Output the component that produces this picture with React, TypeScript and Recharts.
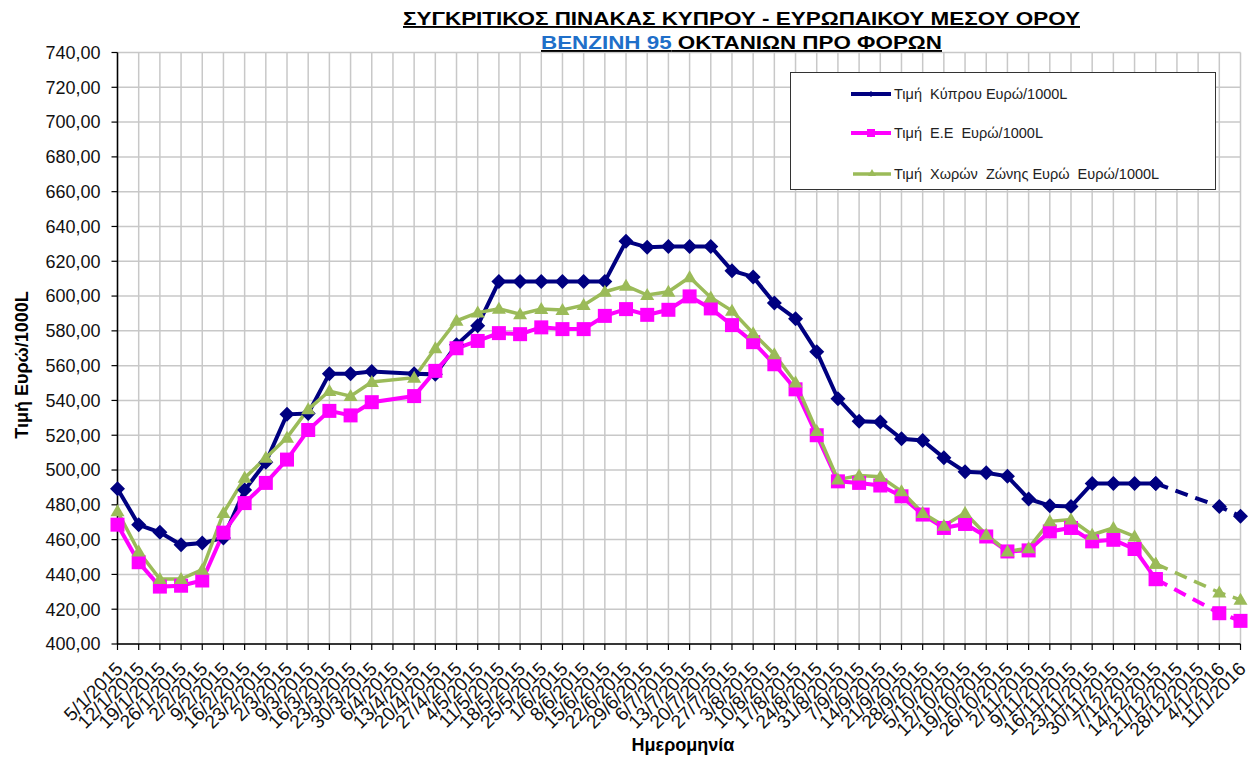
import React from "react";
import { LineChart, Line, XAxis, YAxis, CartesianGrid } from "recharts";

// weekly dates (Mondays)
const dates = [
  "5/1/2015", "12/1/2015", "19/1/2015", "26/1/2015", "2/2/2015", "9/2/2015",
  "16/2/2015", "23/2/2015", "2/3/2015", "9/3/2015", "16/3/2015", "23/3/2015",
  "30/3/2015", "6/4/2015", "13/4/2015", "20/4/2015", "27/4/2015", "4/5/2015",
  "11/5/2015", "18/5/2015", "25/5/2015", "1/6/2015", "8/6/2015", "15/6/2015",
  "22/6/2015", "29/6/2015", "6/7/2015", "13/7/2015", "20/7/2015", "27/7/2015",
  "3/8/2015", "10/8/2015", "17/8/2015", "24/8/2015", "31/8/2015", "7/9/2015",
  "14/9/2015", "21/9/2015", "28/9/2015", "5/10/2015", "12/10/2015", "19/10/2015",
  "26/10/2015", "2/11/2015", "9/11/2015", "16/11/2015", "23/11/2015", "30/11/2015",
  "7/12/2015", "14/12/2015", "21/12/2015", "28/12/2015", "4/1/2016", "11/1/2016",
];

const cyprus = [
  489.3, 468.5, 464.2, 457, 458, 461, 488.5, 504.5, 532, 532.5,
  555.4, 555.4, 556.6, null, 555.4, 555, 572, 583, 608.3, 608.3,
  608.3, 608.3, 608.3, 608.3, 631.5, 628, 628.5, 628.5, 628.5, 614.6,
  611, 596, 587, 568, 541, 528, 527.6, 518, 517, 507,
  499, 498.4, 496.4, 483.4, 479.5, 479, 492.3, 492.3, 492.3, 492.3,
  null, null, 479, 473.4,
];

const eu = [
  468.6, 447, 433, 433.5, 436.5, 464, 481, 492.6, 506, 523,
  534, 531.4, 539, null, 542.5, 557, 570, 574.2, 578.7, 578.1,
  582, 581, 581, 588.6, 592.5, 589.2, 592.1, 599.8, 592.9, 583.3,
  573.5, 560.8, 546.4, 520, 493.5, 492.6, 491.1, 484.9, 474.4, 466.7,
  469, 461.8, 453.2, 453.8, 464.7, 466.7, 459, 459.9, 454.6, 437.3,
  null, null, 417.7, 413.3,
];

const zone = [
  476.3, 453.2, 437.3, 437.3, 442.7, 475.3, 495.5, 507, 518.6, 534.9,
  545.4, 542.5, 550.6, null, 553.1, 570, 585.8, 590.5, 592.7, 589.6,
  592.5, 592, 594.8, 602.5, 605.9, 600.6, 602.5, 610.8, 599.2, 591.5,
  578.6, 566.6, 550.3, 522.4, 494.5, 496.8, 496.1, 487.8, 475.3, 468,
  475.3, 462.8, 453.2, 455.1, 470.5, 471.5, 462.8, 466.7, 461.8, 446.1,
  null, null, 429.6, 425.4,
];

const yTicks = [400, 420, 440, 460, 480, 500, 520, 540, 560, 580, 600, 620, 640, 660, 680, 700, 720, 740];

const seriesNames = [
  "Τιμή  Κύπρου Ευρώ/1000L",
  "Τιμή  Ε.Ε  Ευρώ/1000L",
  "Τιμή  Χωρών  Ζώνης Ευρώ  Ευρώ/1000L",
];

// last solid week; later weeks are drawn dashed
const lastSolid = 49;

const data = dates.map((date, i) => ({
  date,
  cyprus: i <= lastSolid ? cyprus[i] : null,
  eu: i <= lastSolid ? eu[i] : null,
  zone: i <= lastSolid ? zone[i] : null,
  cyprusDash: i >= lastSolid ? cyprus[i] : null,
  euDash: i >= lastSolid ? eu[i] : null,
  zoneDash: i >= lastSolid ? zone[i] : null,
}));

const FONT = "'Liberation Sans', Arial, sans-serif";
const NAVY = "#000080";
const MAGENTA = "#FF00FF";
const GREEN = "#9BBB59";

function Diamond(props: any) {
  const { cx, cy, value, index } = props;
  if (cy == null || value == null) return <g key={"d" + index} />;
  const r = 7.5;
  return (
    <path
      key={"d" + index}
      d={`M${cx},${cy - r}L${cx + r},${cy}L${cx},${cy + r}L${cx - r},${cy}Z`}
      fill={NAVY}
    />
  );
}

function Square(props: any) {
  const { cx, cy, value, index } = props;
  if (cy == null || value == null) return <g key={"s" + index} />;
  const r = 7;
  return <rect key={"s" + index} x={cx - r} y={cy - r} width={2 * r} height={2 * r} fill={MAGENTA} />;
}

function Triangle(props: any) {
  const { cx, cy, value, index } = props;
  if (cy == null || value == null) return <g key={"t" + index} />;
  return (
    <path
      key={"t" + index}
      d={`M${cx},${cy - 7}L${cx + 7},${cy + 5}L${cx - 7},${cy + 5}Z`}
      fill={GREEN}
    />
  );
}

function DateTick(props: any) {
  const { x, y, payload } = props;
  return (
    <text
      x={x + 6.5}
      y={y + 18}
      transform={`rotate(-45, ${x + 6.5}, ${y + 18})`}
      textAnchor="end"
      fontSize={19}
      fontFamily={FONT}
      fill="#111"
    >
      {payload.value}
    </text>
  );
}

function LegendBox() {
  const txt = { fontSize: 14.5, fontFamily: FONT, fill: "#222", whiteSpace: "pre" as const };
  return (
    <div
      style={{
        position: "absolute",
        left: 790,
        top: 72,
        width: 424,
        height: 116,
        border: "1.5px solid #333",
        background: "#fff",
      }}
    >
      <svg width={424} height={116} style={{ position: "absolute", left: 0, top: 0 }}>
        <line x1={60} y1={21} x2={100} y2={21} stroke={NAVY} strokeWidth={4} />
        <path d="M80,18L83,21L80,24L77,21Z" fill={NAVY} />
        <text x={103} y={26} style={txt}>{seriesNames[0]}</text>

        <line x1={60} y1={60} x2={100} y2={60} stroke={MAGENTA} strokeWidth={4} />
        <rect x={76} y={56} width={8} height={8} fill={MAGENTA} />
        <text x={103} y={65} style={txt}>{seriesNames[1]}</text>

        <line x1={62} y1={101} x2={100} y2={101} stroke={GREEN} strokeWidth={3.5} />
        <path d="M81,96L85,103L77,103Z" fill={GREEN} />
        <text x={103} y={106} style={txt}>{seriesNames[2]}</text>
      </svg>
    </div>
  );
}

export default function App() {
  return (
    <div style={{ position: "absolute", left: 0, top: 0, width: 1253, height: 758, background: "#fff" }}>
      <LineChart
        width={1253}
        height={758}
        data={data}
        margin={{ top: 52.5, right: 12.5, left: 0, bottom: 0 }}
      >
        <CartesianGrid stroke="#c8c8c8" strokeWidth={1.5} />
        <XAxis
          dataKey="date"
          interval={0}
          height={114}
          tickSize={6}
          tick={<DateTick />}
          axisLine={{ stroke: "#000", strokeWidth: 1.5 }}
          tickLine={{ stroke: "#000", strokeWidth: 1.2 }}
        />
        <YAxis
          width={117.5}
          domain={[400, 740]}
          ticks={yTicks}
          type="number"
          allowDataOverflow
          tickSize={6}
          tickMargin={11}
          tickFormatter={(v: number) => v.toFixed(2).replace(".", ",")}
          tick={{ fontSize: 18, fontFamily: FONT, fill: "#111" }}
          axisLine={{ stroke: "#000", strokeWidth: 1.5 }}
          tickLine={{ stroke: "#000", strokeWidth: 1.2 }}
        />
        <Line dataKey="cyprus" stroke={NAVY} strokeWidth={4} connectNulls dot={(p: any) => <Diamond {...p} />} isAnimationActive={false} />
        <Line dataKey="eu" stroke={MAGENTA} strokeWidth={4} connectNulls dot={(p: any) => <Square {...p} />} isAnimationActive={false} />
        <Line dataKey="zone" stroke={GREEN} strokeWidth={3.5} connectNulls dot={(p: any) => <Triangle {...p} />} isAnimationActive={false} />
        <Line dataKey="cyprusDash" stroke={NAVY} strokeWidth={4} strokeDasharray="13 8" connectNulls dot={(p: any) => <Diamond {...p} />} isAnimationActive={false} />
        <Line dataKey="euDash" stroke={MAGENTA} strokeWidth={4} strokeDasharray="13 8" connectNulls dot={(p: any) => <Square {...p} />} isAnimationActive={false} />
        <Line dataKey="zoneDash" stroke={GREEN} strokeWidth={3.5} strokeDasharray="13 8" connectNulls dot={(p: any) => <Triangle {...p} />} isAnimationActive={false} />
      </LineChart>

      <svg width={1253} height={758} style={{ position: "absolute", left: 0, top: 0, pointerEvents: "none" }}>
        <text
          x={741.5}
          y={25}
          textAnchor="middle"
          fontSize={19}
          fontWeight="bold"
          fontFamily={FONT}
          textDecoration="underline"
          textLength={677}
          lengthAdjust="spacingAndGlyphs"
          fill="#000"
        >
          ΣΥΓΚΡΙΤΙΚΟΣ ΠΙΝΑΚΑΣ ΚΥΠΡΟΥ - ΕΥΡΩΠΑΙΚΟΥ ΜΕΣΟΥ ΟΡΟΥ
        </text>
        <text
          x={741.5}
          y={49}
          textAnchor="middle"
          fontSize={19}
          fontWeight="bold"
          fontFamily={FONT}
          textDecoration="underline"
          textLength={401}
          lengthAdjust="spacingAndGlyphs"
        >
          <tspan fill="#1F6FC9">ΒΕΝΖΙΝΗ 95</tspan>
          <tspan fill="#000"> ΟΚΤΑΝΙΩΝ ΠΡΟ ΦΟΡΩΝ</tspan>
        </text>
        <text
          x={22}
          y={365}
          transform="rotate(-90, 22, 365)"
          textAnchor="middle"
          dominantBaseline="central"
          fontSize={18}
          fontWeight="bold"
          fontFamily={FONT}
          fill="#000"
        >
          Τιμή Ευρώ/1000L
        </text>
        <text x={683} y={751} textAnchor="middle" fontSize={18} fontWeight="bold" fontFamily={FONT} fill="#000">
          Ημερομηνία
        </text>
      </svg>

      <LegendBox />
    </div>
  );
}
